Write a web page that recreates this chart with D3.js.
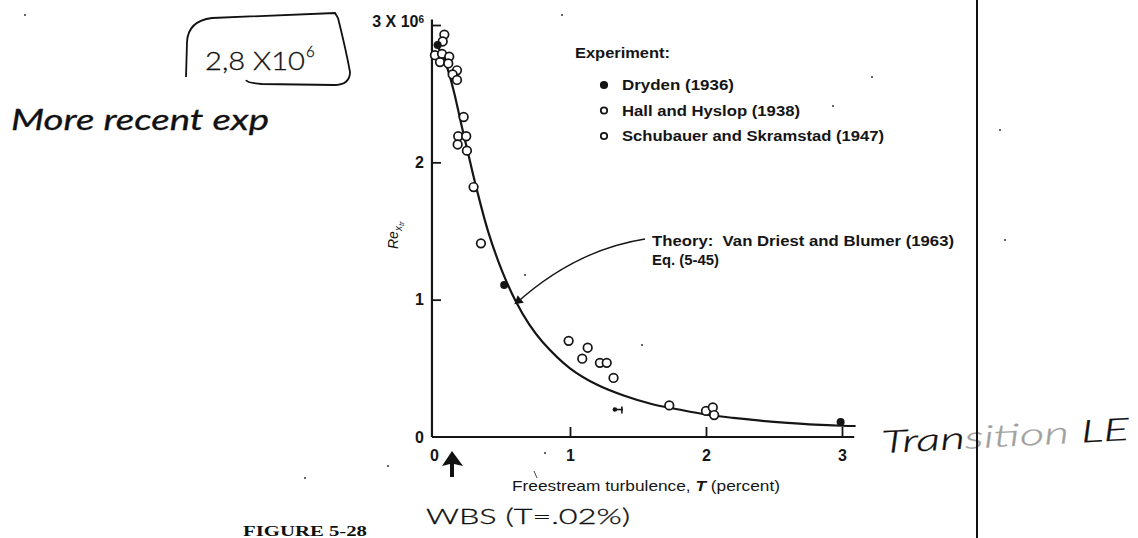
<!DOCTYPE html>
<html>
<head>
<meta charset="utf-8">
<script src="https://cdn.jsdelivr.net/npm/d3@7"></script>
<style>
  html, body { margin: 0; padding: 0; background: #fff; }
  svg { display: block; }
  .print { font-family: "Liberation Sans", Arial, sans-serif; font-weight: bold; fill: #151515; }
  .hand { font-family: "Lato", "DejaVu Sans", sans-serif; font-weight: 400; font-style: italic; fill: #111; stroke: #111; stroke-width: 0.3px; }
</style>
</head>
<body>
<svg id="chart" width="1138" height="538"></svg>
<script>
// Transition Reynolds number (millions) against freestream turbulence T (percent)

// Theory: Van Driest and Blumer (1963), Eq. (5-45)
const theoryT  = [0, 0.05, 0.1, 0.15, 0.2, 0.25, 0.3, 0.4, 0.5, 0.6, 0.7, 0.8, 1.0, 1.2, 1.4, 1.6, 1.8, 2.0, 2.2, 2.4, 2.6, 2.8, 3.0, 3.1];
const theoryRe = [2.86, 2.81, 2.68, 2.50, 2.28, 2.07, 1.86, 1.49, 1.21, 0.99, 0.82, 0.69, 0.50, 0.38, 0.30, 0.24, 0.20, 0.164, 0.139, 0.119, 0.103, 0.090, 0.082, 0.080];

// Experiment: Dryden (1936)
const drydenT  = [0.027, 0.516, 2.99];
const drydenRe = [2.855, 1.107, 0.11];

// Experiment: Hall and Hyslop (1938)
const hallT  = [0.99, 1.13, 1.09, 1.22, 1.27, 1.32, 1.73, 2.00, 2.05, 2.06];
const hallRe = [0.70, 0.65, 0.57, 0.54, 0.54, 0.43, 0.23, 0.19, 0.215, 0.16];

// Experiment: Schubauer and Skramstad (1947)
const schubT  = [0.076, 0.064, 0.007, 0.059, 0.112, 0.044, 0.105, 0.169, 0.137, 0.169, 0.218, 0.178, 0.237, 0.174, 0.242, 0.291, 0.345];
const schubRe = [2.93, 2.88, 2.78, 2.79, 2.77, 2.73, 2.72, 2.67, 2.64, 2.60, 2.33, 2.19, 2.19, 2.13, 2.085, 1.82, 1.41];

// Stray smudged reading below the curve
const smudgeT  = [1.33];
const smudgeRe = [0.20];

const xTicks = [0, 1, 2, 3];
const yTicks = [0, 1, 2, 3];

const legendLabels = ["Dryden (1936)", "Hall and Hyslop (1938)", "Schubauer and Skramstad (1947)"];
const legendWidths = [112, 178, 262];

const svg = d3.select("#chart");
const ink = "#151515";

const x = d3.scaleLinear().domain([0, 3]).range([434, 842]);
const y = d3.scaleLinear().domain([0, 3]).range([437, 25]);

// ---- axes ----
const xAxis = d3.axisBottom(x).tickValues(xTicks).tickSize(-10).tickSizeOuter(0).tickPadding(13)
  .tickFormat(d3.format("d"));
const gx = svg.append("g").attr("transform", `translate(0,${y(0)})`).call(xAxis);
gx.select(".domain").remove();
gx.selectAll(".tick line").attr("stroke", ink).attr("stroke-width", 1.8);
gx.selectAll(".tick").filter(d => d === 0).select("line").remove();
gx.selectAll("text").attr("class", "print").style("font-size", "16px").attr("font-family", null);

const yAxis = d3.axisLeft(y).tickValues(yTicks).tickSize(-9).tickSizeOuter(0).tickPadding(8)
  .tickFormat(d3.format("d"));
const gy = svg.append("g").attr("transform", `translate(${x(0) - 2},0)`).call(yAxis);
gy.select(".domain").remove();
gy.selectAll(".tick line").attr("stroke", ink).attr("stroke-width", 1.8);
gy.selectAll(".tick").filter(d => d === 0).select("line").remove();
gy.selectAll("text").attr("class", "print").style("font-size", "16px").attr("font-family", null);
const topLabel = gy.selectAll(".tick").filter(d => d === 3).select("text").text(null).attr("dy", "0.1em");
topLabel.append("tspan").text("3 X 10");
topLabel.append("tspan").text("6").attr("dy", "-0.45em").style("font-size", "10px");

// axis lines
svg.append("line")
  .attr("x1", x(-0.015)).attr("x2", x(3.09)).attr("y1", y(0)).attr("y2", y(0))
  .attr("stroke", ink).attr("stroke-width", 2.2);
svg.append("line")
  .attr("x1", x(-0.015)).attr("x2", x(-0.015)).attr("y1", y(0)).attr("y2", y(3.04))
  .attr("stroke", ink).attr("stroke-width", 2.2);

// axis titles
const xt = svg.append("text").attr("class", "print")
  .attr("x", 512).attr("y", y(0) + 54)
  .attr("textLength", 268).attr("lengthAdjust", "spacingAndGlyphs")
  .style("font-size", "14px").style("font-weight", "normal");
xt.append("tspan").text("Freestream turbulence, ");
xt.append("tspan").text("T").style("font-style", "italic").style("font-weight", "bold");
xt.append("tspan").text(" (percent)");

const yt = svg.append("text").attr("class", "print")
  .attr("transform", `translate(${x(0) - 36},${y(1.47)}) rotate(-90)`)
  .attr("text-anchor", "middle").style("font-size", "14px").style("font-style", "italic").style("font-weight", "normal");
yt.append("tspan").text("Re");
yt.append("tspan").text("x").attr("dy", "0.35em").style("font-size", "10px");
yt.append("tspan").text("tr").attr("dy", "0.3em").style("font-size", "8px");

// ---- theory curve ----
const theory = theoryT.map((t, i) => [t, theoryRe[i]]);
svg.append("path").datum(theory)
  .attr("fill", "none").attr("stroke", ink).attr("stroke-width", 2.2)
  .attr("d", d3.line().x(d => x(d[0])).y(d => y(d[1])).curve(d3.curveCatmullRom.alpha(0.5)));

// ---- experimental points ----
const pts = (ts, rs) => ts.map((t, i) => [t, rs[i]]);

svg.append("g").selectAll("circle").data(pts(schubT, schubRe)).join("circle")
  .attr("cx", d => x(d[0])).attr("cy", d => y(d[1])).attr("r", 4.3)
  .attr("fill", "#fff").attr("stroke", ink).attr("stroke-width", 1.7);

svg.append("g").selectAll("circle").data(pts(hallT, hallRe)).join("circle")
  .attr("cx", d => x(d[0])).attr("cy", d => y(d[1])).attr("r", 4.3)
  .attr("fill", "#fff").attr("stroke", ink).attr("stroke-width", 1.7);

svg.append("g").selectAll("circle").data(pts(drydenT, drydenRe)).join("circle")
  .attr("cx", d => x(d[0])).attr("cy", d => y(d[1])).attr("r", 4)
  .attr("fill", ink);

const sm = svg.append("g").selectAll("g").data(pts(smudgeT, smudgeRe)).join("g")
  .attr("transform", d => `translate(${x(d[0])},${y(d[1])})`);
sm.append("circle").attr("r", 2.3).attr("fill", ink);
sm.append("line").attr("x1", 0).attr("x2", 8).attr("stroke", ink).attr("stroke-width", 1.6);
sm.append("line").attr("x1", 7).attr("x2", 7).attr("y1", -3).attr("y2", 4).attr("stroke", ink).attr("stroke-width", 1.6);

// ---- legend ----
const lg = svg.append("g").attr("transform", "translate(575,0)");
lg.append("text").attr("class", "print").attr("x", 0).attr("y", 58)
  .attr("textLength", 95).attr("lengthAdjust", "spacingAndGlyphs")
  .style("font-size", "14px").text("Experiment:");
const rows = lg.selectAll("g.row").data(legendLabels).join("g").attr("class", "row")
  .attr("transform", (d, i) => `translate(0,${85 + i * 25.5})`);
rows.append("circle").attr("cx", 29).attr("cy", 0).attr("r", 3.2)
  .attr("fill", (d, i) => i === 0 ? ink : "#fff").attr("stroke", ink).attr("stroke-width", 1.8);
rows.append("text").attr("class", "print").attr("x", 47).attr("y", 5)
  .attr("textLength", (d, i) => legendWidths[i]).attr("lengthAdjust", "spacingAndGlyphs")
  .style("font-size", "14px").text(d => d);

// ---- theory annotation ----
svg.append("text").attr("class", "print").attr("x", 652).attr("y", 246).style("font-size", "15px")
  .attr("textLength", 302).attr("lengthAdjust", "spacingAndGlyphs")
  .attr("xml:space", "preserve").text("Theory:  Van Driest and Blumer (1963)");
svg.append("text").attr("class", "print").attr("x", 652).attr("y", 265).style("font-size", "15px")
  .attr("textLength", 67).attr("lengthAdjust", "spacingAndGlyphs").text("Eq. (5-45)");
svg.append("path").attr("d", `M 645 239 Q 575 250 ${x(0.6)} ${y(0.97)}`)
  .attr("fill", "none").attr("stroke", ink).attr("stroke-width", 1.4);
svg.append("path").attr("d", d3.symbol(d3.symbolTriangle, 40)())
  .attr("transform", `translate(${x(0.6) + 3},${y(0.97) - 3}) rotate(-130)`).attr("fill", ink);

// ---- hand-written notes ----
svg.append("path")
  .attr("d", "M 186 77 L 187 42 Q 188 21 212 18 L 335 13 L 338 18 Q 346 50 350 72 Q 350 85 334 85 L 262 84 Q 247 83 246 80")
  .attr("fill", "none").attr("stroke", "#111").attr("stroke-width", 1.8);
svg.append("text").attr("class", "hand").attr("x", 205).attr("y", 70).style("font-size", "26px")
  .style("font-style", "normal").style("font-weight", "300")
  .attr("textLength", 100).attr("lengthAdjust", "spacingAndGlyphs").text("2,8 X10");
svg.append("text").attr("class", "hand").attr("x", 306).attr("y", 57).style("font-size", "15px")
  .style("font-style", "normal").style("font-weight", "300").text("6");

svg.append("text").attr("class", "hand").attr("x", 11).attr("y", 130).style("font-size", "28px")
  .attr("textLength", 258).attr("lengthAdjust", "spacingAndGlyphs").text("More recent exp");

svg.append("text").attr("class", "hand").attr("x", 426).attr("y", 524).style("font-size", "22px")
  .style("font-style", "normal").style("font-weight", "300")
  .attr("textLength", 204).attr("lengthAdjust", "spacingAndGlyphs").text("WBS (T=.02%)");

const tr = svg.append("text").attr("class", "hand").attr("transform", "translate(882,453) rotate(-3)")
  .style("font-size", "31px").style("font-weight", "300")
  .attr("textLength", 248).attr("lengthAdjust", "spacingAndGlyphs");
tr.append("tspan").text("Tran");
tr.append("tspan").text("sition").style("opacity", 0.4);
tr.append("tspan").text(" LE");

// arrow pointing at the WBS turbulence level
svg.append("path").attr("d", "M 452 451 L 463 466 L 454 464 L 454 477 L 450 477 L 450 464 L 442 466 Z")
  .attr("fill", "#111");

// page edge
svg.append("line").attr("x1", 977).attr("x2", 977).attr("y1", 0).attr("y2", 538)
  .attr("stroke", "#111").attr("stroke-width", 2);

// caption at the foot of the page
svg.append("text").attr("x", 243).attr("y", 536).style("font-family", "'Liberation Serif', serif")
  .style("font-size", "15px").style("font-weight", "bold").attr("fill", "#111")
  .attr("textLength", 124).attr("lengthAdjust", "spacingAndGlyphs").text("FIGURE 5-28");

// specks
const specks = [[25, 15], [562, 15], [872, 77], [833, 106], [305, 478], [388, 466], [545, 453], [525, 275], [642, 345], [1005, 240], [1000, 130]];
svg.append("g").selectAll("circle").data(specks).join("circle")
  .attr("cx", d => d[0]).attr("cy", d => d[1]).attr("r", 1).attr("fill", "#333");
svg.append("line").attr("x1", 534).attr("y1", 471).attr("x2", 537).attr("y2", 478).attr("stroke", "#444").attr("stroke-width", 1);
</script>
</body>
</html>
